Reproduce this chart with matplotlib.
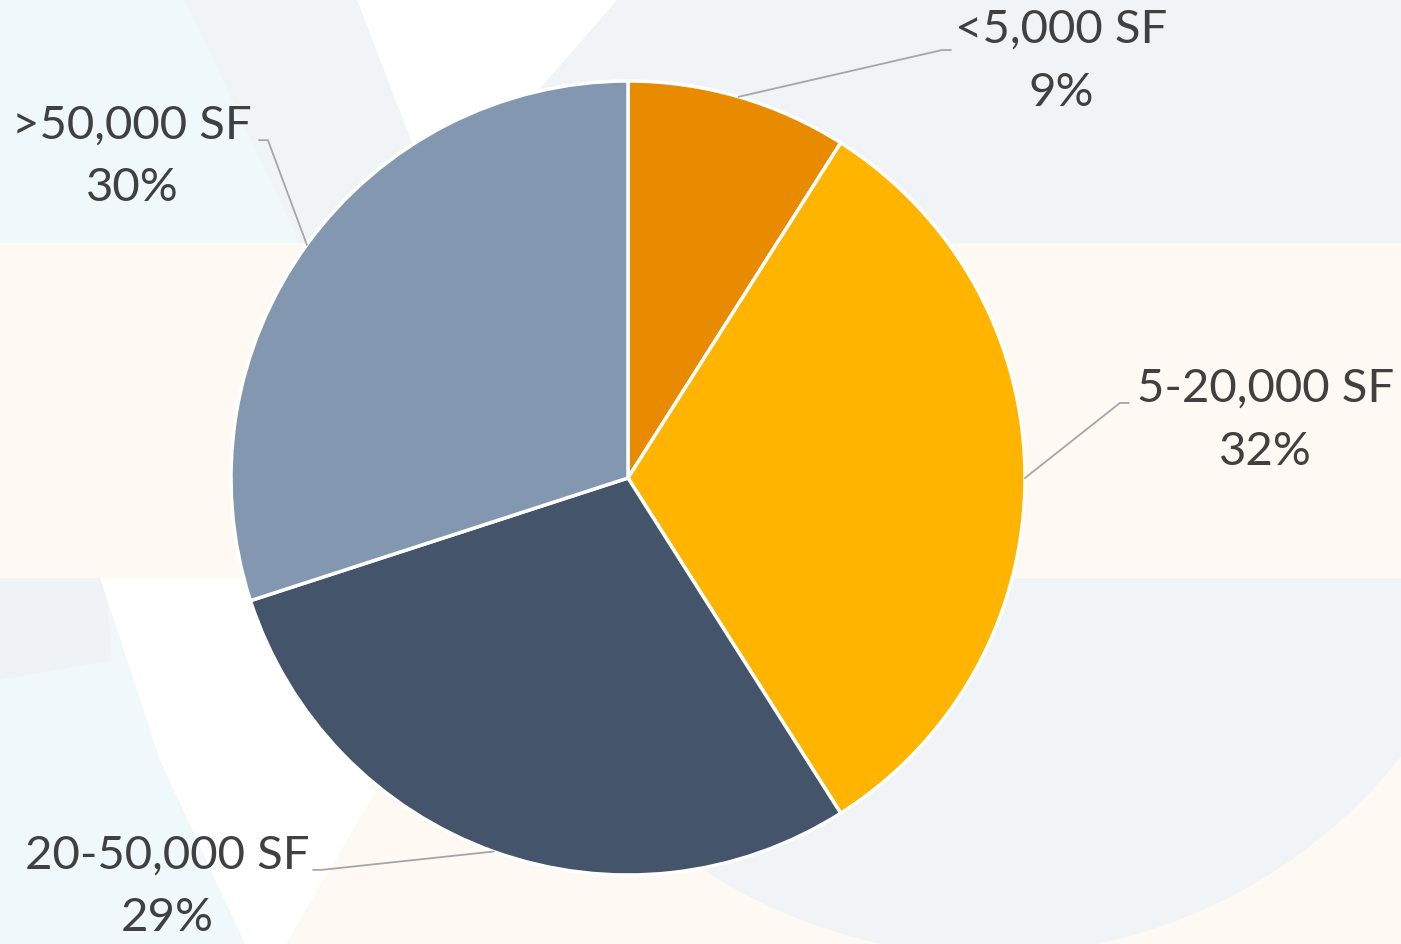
import matplotlib.pyplot as plt
import numpy as np
from matplotlib.patches import Polygon, Circle, Rectangle

labels = ["<5,000 SF", "5-20,000 SF", "20-50,000 SF", ">50,000 SF"]
shares = [9, 32, 29, 30]
colors = ["#E98B00", "#FFB500", "#44546A", "#8497B0"]

# label layout: (elbow x, elbow y, text x, text y) in pie units
label_pos = [(0.791, 1.078, 1.091, 1.050),
             (1.239, 0.189, 1.605, 0.146),
             (-0.771, -0.987, -1.161, -1.030),
             (-0.907, 0.851, -1.249, 0.809)]

W, H = 1401, 944
fig = plt.figure(figsize=(W / 100, H / 100), dpi=100)
fig.patch.set_facecolor("white")

# faint decorative background (pixel coordinates)
bg = fig.add_axes([0, 0, 1, 1])
bg.set_xlim(0, W)
bg.set_ylim(H, 0)
bg.axis("off")
cream = "#FEF9F2"
grey = "#F1F4F6"
blue = "#EFF8FB"
bg.add_patch(Rectangle((0, 0), W, H, color=cream, lw=0))
bg.add_patch(Circle((990, 430), 525, color=grey, lw=0))
# top band
bg.add_patch(Rectangle((0, 0), W, 243, color=grey, lw=0))
bg.add_patch(Polygon([(0, 0), (185, 0), (300, 243), (0, 243)], color=blue, lw=0))
bg.add_patch(Polygon([(357, 0), (617, 0), (530, 100), (440, 200), (411, 140)],
                     color="white", lw=0))
# middle band
bg.add_patch(Rectangle((0, 243), W, 335, color=cream, lw=0))
# bottom left
bg.add_patch(Polygon([(0, 578), (100, 578), (160, 760), (245, 944), (0, 944)], color=blue, lw=0))
bg.add_patch(Polygon([(0, 578), (105, 578), (112, 660), (0, 680)], color="#EFF3F5", lw=0))
bg.add_patch(Polygon([(100, 578), (300, 578), (330, 700), (375, 793), (286, 944), (245, 944),
                      (160, 760)], color="white", lw=0))

# pie
cx, cy, r = 628, 478, 397
ax = fig.add_axes([(cx - r) / W, (H - cy - r) / H, 2 * r / W, 2 * r / H])
wedges, _ = ax.pie(shares, colors=colors, startangle=90, counterclock=False, radius=1,
                   wedgeprops=dict(edgecolor="white", linewidth=2.5), frame=True)
ax.set_xlim(-1, 1)
ax.set_ylim(-1, 1)
ax.axis("off")

for w, lab, val, (ex, ey, tx, ty) in zip(wedges, labels, shares, label_pos):
    ang = np.deg2rad((w.theta1 + w.theta2) / 2)
    sx, sy = np.cos(ang), np.sin(ang)
    end_x = ex + (0.022 if tx > 0 else -0.022)
    ax.plot([sx, ex, end_x], [sy, ey, ey], color="#A6A6A6", lw=1.3, clip_on=False)
    ax.text(tx, ty, f"{lab}\n{val}%", ha="center", va="center", fontsize=34,
            family="Lato", color="#404040", linespacing=1.62, clip_on=False)

fig.savefig("out.png", dpi=100)
